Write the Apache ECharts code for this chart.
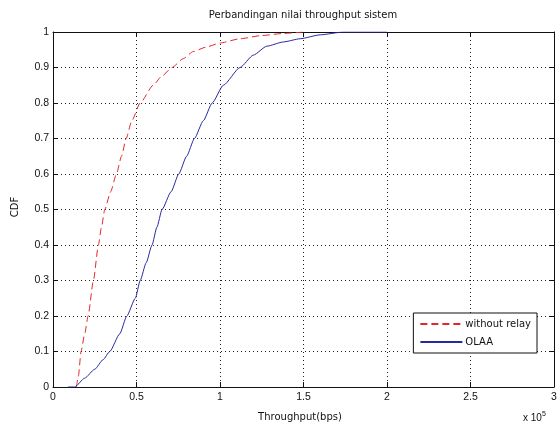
<!DOCTYPE html>
<html>
<head>
<meta charset="utf-8">
<script src="https://cdn.jsdelivr.net/npm/echarts@6/dist/echarts.min.js"></script>
<style>
html,body{margin:0;padding:0;background:#fff;}
#c{width:560px;height:425px;}
</style>
</head>
<body>
<div id="c"></div>
<script>
// Throughput in units of 10^5 bps, CDF values
const withoutRelayX = [0.14, 0.152, 0.168, 0.19, 0.21, 0.242, 0.272, 0.29, 0.31, 0.345, 0.38, 0.41, 0.438, 0.472, 0.522, 0.60, 0.65, 0.713, 0.78, 0.84, 0.92, 1.0, 1.12, 1.25, 1.38, 1.5];
const withoutRelayY = [0, 0.03, 0.1, 0.15, 0.2, 0.3, 0.4, 0.45, 0.5, 0.55, 0.6, 0.65, 0.7, 0.75, 0.8, 0.85, 0.875, 0.9, 0.925, 0.945, 0.958, 0.969, 0.981, 0.99, 0.996, 1.0];
const olaaX = [0.09, 0.13, 0.19, 0.25, 0.3, 0.34, 0.4, 0.442, 0.493, 0.522, 0.558, 0.593, 0.622, 0.653, 0.707, 0.753, 0.80, 0.847, 0.90, 0.953, 1.02, 1.12, 1.2, 1.28, 1.38, 1.48, 1.6, 1.74, 2.0];
const olaaY = [0, 0, 0.025, 0.05, 0.077, 0.1, 0.15, 0.2, 0.25, 0.3, 0.35, 0.4, 0.45, 0.5, 0.55, 0.6, 0.65, 0.7, 0.75, 0.8, 0.85, 0.9, 0.935, 0.96, 0.972, 0.981, 0.992, 1.0, 1.0];
const seriesNames = ['without relay', 'OLAA'];
const titleText = 'Perbandingan nilai throughput sistem';
const xLabel = 'Throughput(bps)';
const yLabel = 'CDF';

const font = 'DejaVu Sans, Liberation Sans, Arial, sans-serif';
const tickFont = 'Liberation Sans, Arial, sans-serif';
const chart = echarts.init(document.getElementById('c'));
const zip = (a, b) => a.map((v, i) => [v, b[i]]);
const gridLine = {show: true, lineStyle: {color: '#222', type: [1, 3], width: 1}};
const axisCol = '#111';
chart.setOption({
  animation: false,
  backgroundColor: '#fff',
  title: {text: titleText, left: 303, top: 10, textAlign: 'center', padding: 0,
    textStyle: {fontFamily: font, fontSize: 10, fontWeight: 'normal', color: '#111'}},
  grid: {left: 53, right: 6, top: 32, bottom: 38},
  legend: {
    orient: 'vertical', right: 23, top: 313, itemWidth: 42, itemHeight: 10, itemGap: 8,
    padding: [6, 6, 6, 6],
    borderColor: '#111', borderWidth: 1, backgroundColor: '#fff', borderRadius: 0,
    itemStyle: {color: 'rgba(0,0,0,0)', borderColor: 'rgba(0,0,0,0)', borderWidth: 0},
    textStyle: {fontFamily: font, fontSize: 10, color: '#111', padding: [0, 0, 0, -2]},
    data: seriesNames
  },
  xAxis: [
    {type: 'value', min: 0, max: 3, interval: 0.5, position: 'bottom',
      axisLine: {onZero: false, lineStyle: {color: axisCol}},
      axisTick: {inside: true, length: 5, lineStyle: {color: axisCol}},
      axisLabel: {fontFamily: tickFont, fontSize: 10.5, color: '#111', margin: 5},
      splitLine: gridLine},
    {type: 'value', min: 0, max: 3, interval: 0.5, position: 'top',
      axisLine: {onZero: false, lineStyle: {color: axisCol}},
      axisTick: {inside: true, length: 5, lineStyle: {color: axisCol}},
      axisLabel: {show: false}, splitLine: {show: false}}
  ],
  yAxis: [
    {type: 'value', min: 0, max: 1, interval: 0.1, position: 'left',
      axisLine: {show: true, onZero: false, lineStyle: {color: axisCol}},
      axisTick: {show: true, inside: true, length: 5, lineStyle: {color: axisCol}},
      axisLabel: {fontFamily: tickFont, fontSize: 10.5, color: '#111', margin: 4},
      splitLine: gridLine},
    {type: 'value', min: 0, max: 1, interval: 0.1, position: 'right',
      axisLine: {show: true, onZero: false, lineStyle: {color: axisCol}},
      axisTick: {show: true, inside: true, length: 5, lineStyle: {color: axisCol}},
      axisLabel: {show: false}, splitLine: {show: false}}
  ],
  series: [
    {name: seriesNames[0], type: 'line', data: zip(withoutRelayX, withoutRelayY), smooth: 0.2, smoothMonotone: 'x',
      symbol: 'none', lineStyle: {color: '#e02828', width: 1, type: [7, 4]}, itemStyle: {color: '#e02828'}},
    {name: seriesNames[1], type: 'line', data: zip(olaaX, olaaY), smooth: 0.2, smoothMonotone: 'x',
      symbol: 'none', lineStyle: {color: '#2828a0', width: 1}, itemStyle: {color: '#2828a0'}}
  ],
  graphic: [
    {type: 'text', x: 300, y: 417, style: {text: xLabel, font: '10px ' + font, fill: '#111',
      align: 'center', verticalAlign: 'middle'}},
    {type: 'text', x: 15, y: 207, rotation: Math.PI / 2,
      style: {text: yLabel, font: '10px ' + font, fill: '#111', align: 'center', verticalAlign: 'middle'}},
    {type: 'text', x: 523, y: 425, style: {
      text: 'x 10{s|5}', font: '10px ' + tickFont, fill: '#111', verticalAlign: 'bottom',
      rich: {s: {fontSize: 7, verticalAlign: 'top', padding: [0, 0, 7, 0], fontFamily: tickFont, fill: '#111'}}}}
  ]
});
</script>
</body>
</html>
